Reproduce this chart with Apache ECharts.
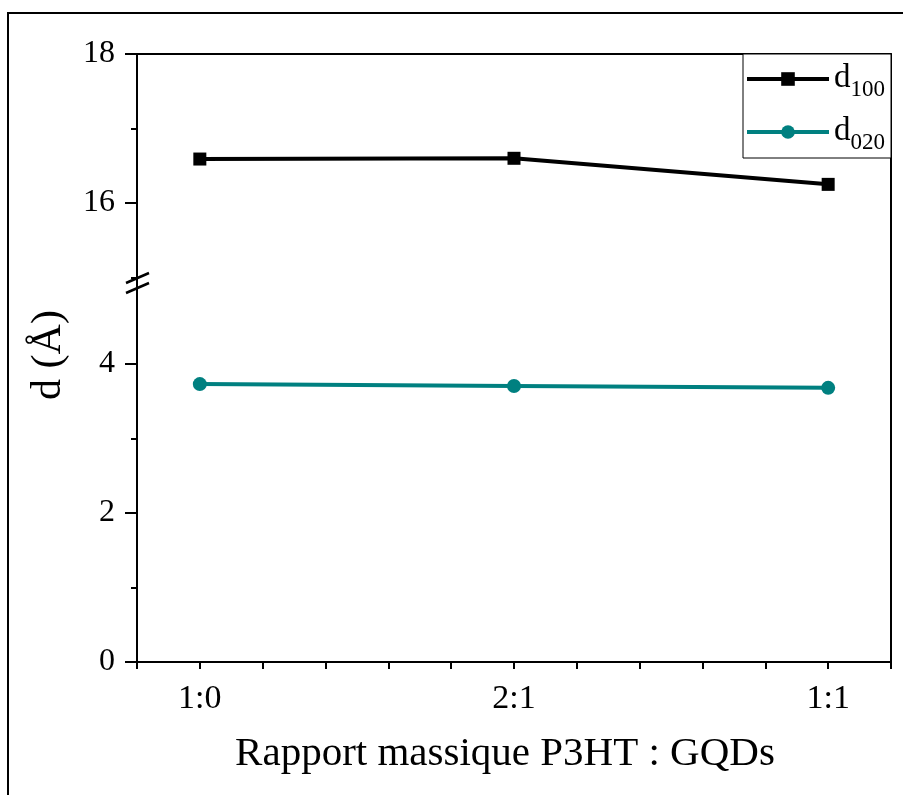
<!DOCTYPE html>
<html>
<head>
<meta charset="utf-8">
<script src="https://cdn.jsdelivr.net/npm/echarts@6/dist/echarts.min.js"></script>
<style>html,body{margin:0;padding:0;background:#fff;}#c{width:903px;height:795px;}</style>
</head>
<body>
<div id="c"></div>
<script>
// ---- data ----
const categories = ['1:0', '2:1', '1:1'];
const d100 = [16.59, 16.60, 16.25];
const d020 = [3.73, 3.705, 3.68];
const upperMajorTicks = [16, 18];
const upperMinorTicks = [15, 17];
const lowerMajorTicks = [0, 2, 4];
const lowerMinorTicks = [1, 3];
const seriesNames = ['d100', 'd020'];

const FONT = "'Liberation Serif', 'Times New Roman', serif";
const chart = echarts.init(document.getElementById('c'), null, {renderer: 'canvas'});

const upperMin = 14.926, upperMax = 18;
const lowerMin = 0, lowerMax = 5.087;
const xMin = -0.2, xMax = 2.2;

const axisLineStyle = {color: '#000', width: 2};
const catPos = categories.map((c, i) => i);

function xAxisBase(grid) {
  return {
    type: 'value', gridIndex: grid, min: xMin, max: xMax, interval: 0.2,
    splitLine: {show: false},
    axisLine: {show: true, onZero: false, lineStyle: axisLineStyle}
  };
}

const option = {
  animation: false,
  backgroundColor: '#fff',
  grid: [
    {left: 137, right: 12, top: 54, height: 229},
    {left: 137, right: 12, top: 283, height: 379}
  ],
  xAxis: [
    Object.assign(xAxisBase(0), {position: 'top', axisTick: {show: false}, axisLabel: {show: false}}),
    Object.assign(xAxisBase(1), {
      position: 'bottom',
      axisTick: {show: true, inside: false, length: 7, lineStyle: {color: '#000', width: 2}},
      axisLabel: {
        show: true, customValues: catPos, margin: 20,
        formatter: v => categories[Math.round(v)],
        fontFamily: FONT, fontSize: 34, color: '#000'
      },
      name: 'Rapport massique P3HT : GQDs', nameLocation: 'middle', nameGap: 72,
      nameTextStyle: {fontFamily: FONT, fontSize: 41, color: '#000', padding: [0, 18, 0, 0]}
    })
  ],
  yAxis: [
    {
      type: 'value', gridIndex: 0, position: 'left', min: upperMin, max: upperMax,
      splitLine: {show: false},
      axisLine: {show: true, onZero: false, lineStyle: axisLineStyle},
      axisTick: {show: true, customValues: upperMajorTicks, length: 12, lineStyle: {color: '#000', width: 2}},
      axisLabel: {show: true, customValues: upperMajorTicks, margin: 22, fontFamily: FONT, fontSize: 32, color: '#000'}
    },
    {
      type: 'value', gridIndex: 0, position: 'left', min: upperMin, max: upperMax,
      splitLine: {show: false}, axisLine: {show: false, onZero: false},
      axisTick: {show: true, customValues: upperMinorTicks, length: 6, lineStyle: {color: '#000', width: 2}},
      axisLabel: {show: false}
    },
    {
      type: 'value', gridIndex: 0, position: 'right', min: upperMin, max: upperMax,
      splitLine: {show: false}, axisLine: {show: true, onZero: false, lineStyle: axisLineStyle},
      axisTick: {show: false}, axisLabel: {show: false}
    },
    {
      type: 'value', gridIndex: 1, position: 'left', min: lowerMin, max: lowerMax,
      splitLine: {show: false},
      axisLine: {show: true, onZero: false, lineStyle: axisLineStyle},
      axisTick: {show: true, customValues: lowerMajorTicks, length: 12, lineStyle: {color: '#000', width: 2}},
      axisLabel: {show: true, customValues: lowerMajorTicks, margin: 22, fontFamily: FONT, fontSize: 32, color: '#000'}
    },
    {
      type: 'value', gridIndex: 1, position: 'left', min: lowerMin, max: lowerMax,
      splitLine: {show: false}, axisLine: {show: false, onZero: false},
      axisTick: {show: true, customValues: lowerMinorTicks, length: 6, lineStyle: {color: '#000', width: 2}},
      axisLabel: {show: false}
    },
    {
      type: 'value', gridIndex: 1, position: 'right', min: lowerMin, max: lowerMax,
      splitLine: {show: false}, axisLine: {show: true, onZero: false, lineStyle: axisLineStyle},
      axisTick: {show: false}, axisLabel: {show: false}
    }
  ],
  legend: {
    show: true, orient: 'vertical', left: 743, top: 54,
    data: seriesNames,
    padding: [8, 6, 4, 2], itemGap: 14, itemWidth: 82, itemHeight: 17,
    borderColor: '#000', borderWidth: 1, backgroundColor: '#fff',
    lineStyle: {width: 4},
    formatter: name => '{d|d}{s|' + name.slice(1) + '}',
    textStyle: {
      color: '#000', fontFamily: FONT,
      rich: {
        d: {fontFamily: FONT, fontSize: 33, lineHeight: 34, verticalAlign: 'top', color: '#000'},
        s: {fontFamily: FONT, fontSize: 23, lineHeight: 20, padding: [16, 0, 0, 0], verticalAlign: 'top', color: '#000'}
      }
    }
  },
  series: [
    {
      name: seriesNames[0], type: 'line', xAxisIndex: 0, yAxisIndex: 0,
      data: categories.map((c, i) => [i, d100[i]]),
      symbol: 'rect', symbolSize: 13, showSymbol: true,
      lineStyle: {color: '#000', width: 4}, itemStyle: {color: '#000'}
    },
    {
      name: seriesNames[1], type: 'line', xAxisIndex: 1, yAxisIndex: 3,
      data: categories.map((c, i) => [i, d020[i]]),
      symbol: 'circle', symbolSize: 14, showSymbol: true,
      lineStyle: {color: '#008080', width: 4}, itemStyle: {color: '#008080'}
    }
  ],
  graphic: [
    {type: 'rect', shape: {x: 8, y: 13, width: 920, height: 820}, style: {fill: 'none', stroke: '#000', lineWidth: 2}, silent: true, z: 100},
    {type: 'line', shape: {x1: 126, y1: 283, x2: 149, y2: 273}, style: {stroke: '#000', lineWidth: 2.5}, silent: true, z: 100},
    {type: 'line', shape: {x1: 126, y1: 293, x2: 149, y2: 283}, style: {stroke: '#000', lineWidth: 2.5}, silent: true, z: 100},
    {type: 'text', x: 49, y: 355, rotation: Math.PI / 2,
     style: {text: 'd (Å)', font: "42px 'Liberation Serif', 'Times New Roman', serif", fill: '#000', align: 'center', verticalAlign: 'middle'},
     silent: true}
  ]
};
chart.setOption(option);
</script>
</body>
</html>
